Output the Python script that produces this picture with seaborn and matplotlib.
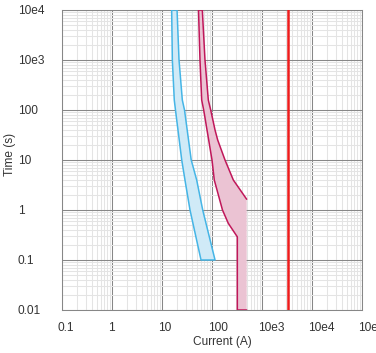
import matplotlib
matplotlib.use('Agg')
import matplotlib.pyplot as plt
import matplotlib.transforms as mtransforms
from matplotlib.ticker import LogLocator, NullFormatter
import pandas as pd
import seaborn as sns

# Values (current in A, time in s)
blue_time = [10000, 1000, 158, 100, 10, 3.98, 1, 0.1]
blue_min_current = [15.6, 16.1, 17.6, 18.6, 24.8, 28.8, 36.3, 60.3]
blue_max_current = [20.0, 21.9, 25.5, 28.2, 38.4, 49.4, 65.2, 115]

crimson_min_time = [10000, 1000, 158, 100, 10, 3.98, 1, 0.54, 0.29, 0.01]
crimson_min_current = [53.7, 57.5, 62.2, 68.2, 100, 111, 162, 212, 321, 321]
crimson_max_time = [10000, 1000, 158, 100, 39.8, 25.1, 10, 3.98, 1.64]
crimson_max_current = [64, 72.4, 84.4, 94.2, 115, 130, 182, 267, 494]

instant_current = 3270

x_ticks = [0.1, 1, 10, 100, 1000, 10000, 100000]
x_tick_labels = ['0.1', '1', '10', '100', '10e3', '10e4', '10e5']
y_ticks = [0.01, 0.1, 1, 10, 100, 1000, 10000]
y_tick_labels = ['0.01', '0.1', '1', '10', '100', '10e3', '10e4']

sns.set_style('white')
plt.rcParams['font.family'] = ['Liberation Sans', 'DejaVu Sans']

fig = plt.figure(figsize=(3.76, 3.53), dpi=100)
ax = fig.add_axes([62 / 376, 43 / 353, 300 / 376, 300 / 353])

# blue band outline (closed)
blue_outline = pd.DataFrame({
    'current': blue_min_current + blue_max_current[::-1] + blue_min_current[:1],
    'time': blue_time + blue_time[::-1] + blue_time[:1],
})
ax.fill(blue_outline['current'], blue_outline['time'], color='#d0eaf7', lw=0, zorder=1)
sns.lineplot(data=blue_outline, x='current', y='time', sort=False, estimator=None,
             color='#45b5e6', lw=1.1, ax=ax, zorder=3)

# crimson band: right curve up, across the top, down the left curve, along the bottom
crimson_path = pd.DataFrame({
    'current': crimson_max_current[::-1] + crimson_min_current + crimson_max_current[-1:],
    'time': crimson_max_time[::-1] + crimson_min_time + [crimson_min_time[-1]],
})
ax.fill(crimson_path['current'], crimson_path['time'], color='#ebc3d3', lw=0, zorder=1)
sns.lineplot(data=crimson_path, x='current', y='time', sort=False, estimator=None,
             color='#c0175a', lw=1.1, ax=ax, zorder=3)

# instantaneous trip line
sns.lineplot(x=[instant_current, instant_current], y=[y_ticks[0], y_ticks[-1]],
             sort=False, estimator=None, color='#ee1c1c', lw=1.8, ax=ax, zorder=4)

ax.set_xscale('log')
ax.set_yscale('log')
ax.set_xlim(x_ticks[0], x_ticks[-1])
ax.set_ylim(y_ticks[0], y_ticks[-1])

ax.set_xticks(x_ticks)
ax.set_xticklabels(x_tick_labels)
ax.set_yticks(y_ticks)
ax.set_yticklabels(y_tick_labels)
ax.xaxis.set_minor_locator(LogLocator(base=10, subs=range(2, 10), numticks=20))
ax.yaxis.set_minor_locator(LogLocator(base=10, subs=range(2, 10), numticks=20))
ax.xaxis.set_minor_formatter(NullFormatter())
ax.yaxis.set_minor_formatter(NullFormatter())

ax.set_axisbelow(True)
ax.grid(which='major', color='#878787', lw=0.75)
ax.grid(which='minor', color='#e4e4e4', lw=0.75)

ax.tick_params(which='major', length=3.6, width=0.75, color='#878787',
               labelsize=8.6, labelcolor='#333333')
ax.tick_params(which='minor', length=0)
ax.tick_params(axis='y', pad=28.1)
ax.tick_params(axis='x', pad=5)

for lab in ax.get_yticklabels():
    lab.set_horizontalalignment('left')
shift = mtransforms.ScaledTranslation(-4 / 100, 0, fig.dpi_scale_trans)
for lab in ax.get_xticklabels():
    lab.set_horizontalalignment('left')
    lab.set_transform(lab.get_transform() + shift)

for side in ax.spines:
    ax.spines[side].set_color('#878787')
    ax.spines[side].set_linewidth(0.75)

ax.set_xlabel('Current (A)', fontsize=8.6, color='#333333')
ax.set_ylabel('Time (s)', fontsize=8.6, color='#333333')
ax.xaxis.set_label_coords(0.535, -0.085)
ax.yaxis.set_label_coords(-0.153, 0.517)

plt.savefig('out.png', dpi=100)
plt.close()
